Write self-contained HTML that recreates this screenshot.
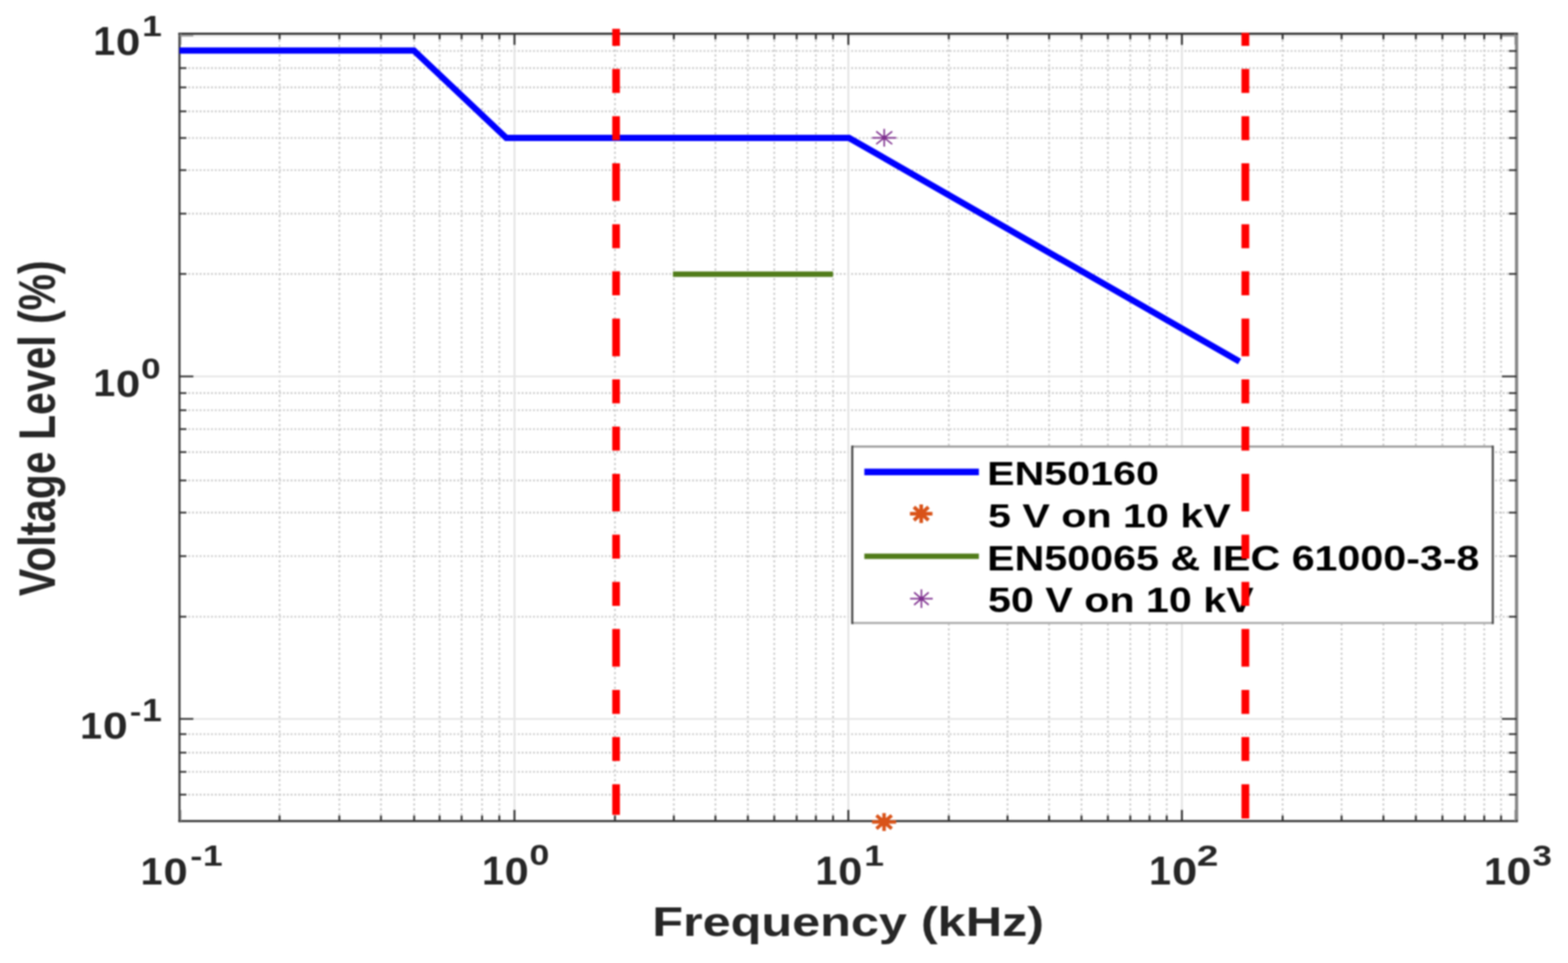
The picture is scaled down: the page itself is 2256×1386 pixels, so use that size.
<!DOCTYPE html>
<html><head><meta charset="utf-8"><title>Voltage Level vs Frequency</title>
<style>html,body{margin:0;padding:0;background:#fff;}svg{display:block;filter:blur(0.8px);}text{font-family:"Liberation Sans",Arial,Helvetica,sans-serif;font-weight:bold;}</style></head><body>
<svg width="2256" height="1386" viewBox="0 0 2256 1386">
<rect x="0" y="0" width="2256" height="1386" fill="#ffffff"/>
<g id="grid"><line x1="402.2" y1="50.6" x2="402.2" y2="1179.7" stroke="#c2c2c2" stroke-width="2.4" stroke-dasharray="2.6 4.4"/><line x1="488.2" y1="50.6" x2="488.2" y2="1179.7" stroke="#c2c2c2" stroke-width="2.4" stroke-dasharray="2.6 4.4"/><line x1="548.1" y1="50.6" x2="548.1" y2="1179.7" stroke="#c2c2c2" stroke-width="2.4" stroke-dasharray="2.6 4.4"/><line x1="595.9" y1="50.6" x2="595.9" y2="1179.7" stroke="#c2c2c2" stroke-width="2.4" stroke-dasharray="2.6 4.4"/><line x1="632.5" y1="50.6" x2="632.5" y2="1179.7" stroke="#c2c2c2" stroke-width="2.4" stroke-dasharray="2.6 4.4"/><line x1="664.1" y1="50.6" x2="664.1" y2="1179.7" stroke="#c2c2c2" stroke-width="2.4" stroke-dasharray="2.6 4.4"/><line x1="693.6" y1="50.6" x2="693.6" y2="1179.7" stroke="#c2c2c2" stroke-width="2.4" stroke-dasharray="2.6 4.4"/><line x1="718.4" y1="50.6" x2="718.4" y2="1179.7" stroke="#c2c2c2" stroke-width="2.4" stroke-dasharray="2.6 4.4"/><line x1="884.8" y1="50.6" x2="884.8" y2="1179.7" stroke="#c2c2c2" stroke-width="2.4" stroke-dasharray="2.6 4.4"/><line x1="969.5" y1="50.6" x2="969.5" y2="1179.7" stroke="#c2c2c2" stroke-width="2.4" stroke-dasharray="2.6 4.4"/><line x1="1029.3" y1="50.6" x2="1029.3" y2="1179.7" stroke="#c2c2c2" stroke-width="2.4" stroke-dasharray="2.6 4.4"/><line x1="1076.0" y1="50.6" x2="1076.0" y2="1179.7" stroke="#c2c2c2" stroke-width="2.4" stroke-dasharray="2.6 4.4"/><line x1="1114.0" y1="50.6" x2="1114.0" y2="1179.7" stroke="#c2c2c2" stroke-width="2.4" stroke-dasharray="2.6 4.4"/><line x1="1146.2" y1="50.6" x2="1146.2" y2="1179.7" stroke="#c2c2c2" stroke-width="2.4" stroke-dasharray="2.6 4.4"/><line x1="1173.9" y1="50.6" x2="1173.9" y2="1179.7" stroke="#c2c2c2" stroke-width="2.4" stroke-dasharray="2.6 4.4"/><line x1="1198.6" y1="50.6" x2="1198.6" y2="1179.7" stroke="#c2c2c2" stroke-width="2.4" stroke-dasharray="2.6 4.4"/><line x1="1365.1" y1="50.6" x2="1365.1" y2="1179.7" stroke="#c2c2c2" stroke-width="2.4" stroke-dasharray="2.6 4.4"/><line x1="1449.6" y1="50.6" x2="1449.6" y2="1179.7" stroke="#c2c2c2" stroke-width="2.4" stroke-dasharray="2.6 4.4"/><line x1="1509.4" y1="50.6" x2="1509.4" y2="1179.7" stroke="#c2c2c2" stroke-width="2.4" stroke-dasharray="2.6 4.4"/><line x1="1556.0" y1="50.6" x2="1556.0" y2="1179.7" stroke="#c2c2c2" stroke-width="2.4" stroke-dasharray="2.6 4.4"/><line x1="1594.0" y1="50.6" x2="1594.0" y2="1179.7" stroke="#c2c2c2" stroke-width="2.4" stroke-dasharray="2.6 4.4"/><line x1="1626.2" y1="50.6" x2="1626.2" y2="1179.7" stroke="#c2c2c2" stroke-width="2.4" stroke-dasharray="2.6 4.4"/><line x1="1654.0" y1="50.6" x2="1654.0" y2="1179.7" stroke="#c2c2c2" stroke-width="2.4" stroke-dasharray="2.6 4.4"/><line x1="1678.7" y1="50.6" x2="1678.7" y2="1179.7" stroke="#c2c2c2" stroke-width="2.4" stroke-dasharray="2.6 4.4"/><line x1="1845.4" y1="50.6" x2="1845.4" y2="1179.7" stroke="#c2c2c2" stroke-width="2.4" stroke-dasharray="2.6 4.4"/><line x1="1930.2" y1="50.6" x2="1930.2" y2="1179.7" stroke="#c2c2c2" stroke-width="2.4" stroke-dasharray="2.6 4.4"/><line x1="1990.4" y1="50.6" x2="1990.4" y2="1179.7" stroke="#c2c2c2" stroke-width="2.4" stroke-dasharray="2.6 4.4"/><line x1="2037.1" y1="50.6" x2="2037.1" y2="1179.7" stroke="#c2c2c2" stroke-width="2.4" stroke-dasharray="2.6 4.4"/><line x1="2075.3" y1="50.6" x2="2075.3" y2="1179.7" stroke="#c2c2c2" stroke-width="2.4" stroke-dasharray="2.6 4.4"/><line x1="2107.6" y1="50.6" x2="2107.6" y2="1179.7" stroke="#c2c2c2" stroke-width="2.4" stroke-dasharray="2.6 4.4"/><line x1="2135.5" y1="50.6" x2="2135.5" y2="1179.7" stroke="#c2c2c2" stroke-width="2.4" stroke-dasharray="2.6 4.4"/><line x1="2159.7" y1="50.6" x2="2159.7" y2="1179.7" stroke="#c2c2c2" stroke-width="2.4" stroke-dasharray="2.6 4.4"/><line x1="260.2" y1="1143.7" x2="2180.0" y2="1143.7" stroke="#c2c2c2" stroke-width="2.4" stroke-dasharray="2.4 3.05"/><line x1="260.2" y1="1110.9" x2="2180.0" y2="1110.9" stroke="#c2c2c2" stroke-width="2.4" stroke-dasharray="2.4 3.05"/><line x1="260.2" y1="1083.2" x2="2180.0" y2="1083.2" stroke="#c2c2c2" stroke-width="2.4" stroke-dasharray="2.4 3.05"/><line x1="260.2" y1="1056.6" x2="2180.0" y2="1056.6" stroke="#c2c2c2" stroke-width="2.4" stroke-dasharray="2.4 3.05"/><line x1="260.2" y1="887.6" x2="2180.0" y2="887.6" stroke="#c2c2c2" stroke-width="2.4" stroke-dasharray="2.4 3.05"/><line x1="260.2" y1="800.4" x2="2180.0" y2="800.4" stroke="#c2c2c2" stroke-width="2.4" stroke-dasharray="2.4 3.05"/><line x1="260.2" y1="737.8" x2="2180.0" y2="737.8" stroke="#c2c2c2" stroke-width="2.4" stroke-dasharray="2.4 3.05"/><line x1="260.2" y1="691.5" x2="2180.0" y2="691.5" stroke="#c2c2c2" stroke-width="2.4" stroke-dasharray="2.4 3.05"/><line x1="260.2" y1="650.7" x2="2180.0" y2="650.7" stroke="#c2c2c2" stroke-width="2.4" stroke-dasharray="2.4 3.05"/><line x1="260.2" y1="617.6" x2="2180.0" y2="617.6" stroke="#c2c2c2" stroke-width="2.4" stroke-dasharray="2.4 3.05"/><line x1="260.2" y1="590.4" x2="2180.0" y2="590.4" stroke="#c2c2c2" stroke-width="2.4" stroke-dasharray="2.4 3.05"/><line x1="260.2" y1="565.8" x2="2180.0" y2="565.8" stroke="#c2c2c2" stroke-width="2.4" stroke-dasharray="2.4 3.05"/><line x1="260.2" y1="394.2" x2="2180.0" y2="394.2" stroke="#c2c2c2" stroke-width="2.4" stroke-dasharray="2.4 3.05"/><line x1="260.2" y1="307.5" x2="2180.0" y2="307.5" stroke="#c2c2c2" stroke-width="2.4" stroke-dasharray="2.4 3.05"/><line x1="260.2" y1="244.9" x2="2180.0" y2="244.9" stroke="#c2c2c2" stroke-width="2.4" stroke-dasharray="2.4 3.05"/><line x1="260.2" y1="198.6" x2="2180.0" y2="198.6" stroke="#c2c2c2" stroke-width="2.4" stroke-dasharray="2.4 3.05"/><line x1="260.2" y1="160.2" x2="2180.0" y2="160.2" stroke="#c2c2c2" stroke-width="2.4" stroke-dasharray="2.4 3.05"/><line x1="260.2" y1="125.8" x2="2180.0" y2="125.8" stroke="#c2c2c2" stroke-width="2.4" stroke-dasharray="2.4 3.05"/><line x1="260.2" y1="98.0" x2="2180.0" y2="98.0" stroke="#c2c2c2" stroke-width="2.4" stroke-dasharray="2.4 3.05"/><line x1="260.2" y1="73.4" x2="2180.0" y2="73.4" stroke="#c2c2c2" stroke-width="2.4" stroke-dasharray="2.4 3.05"/><line x1="740.2" y1="48.6" x2="740.2" y2="1181.7" stroke="#e3e3e3" stroke-width="2.6"/><line x1="1220.6" y1="48.6" x2="1220.6" y2="1181.7" stroke="#e3e3e3" stroke-width="2.6"/><line x1="1700.5" y1="48.6" x2="1700.5" y2="1181.7" stroke="#e3e3e3" stroke-width="2.6"/><line x1="258.2" y1="51.5" x2="2182.0" y2="51.5" stroke="#e6e6e6" stroke-width="2.6"/><line x1="258.2" y1="541.8" x2="2182.0" y2="541.8" stroke="#e6e6e6" stroke-width="2.6"/><line x1="258.2" y1="1034.7" x2="2182.0" y2="1034.7" stroke="#e6e6e6" stroke-width="2.6"/></g>
<g id="axes"><line x1="258.2" y1="47.1" x2="258.2" y2="1183.2" stroke="#3a3a3a" stroke-width="3"/><line x1="2182.0" y1="47.1" x2="2182.0" y2="1183.2" stroke="#858585" stroke-width="4.6"/><line x1="256.7" y1="48.6" x2="2183.5" y2="48.6" stroke="#333333" stroke-width="3"/><line x1="256.7" y1="1181.7" x2="2183.5" y2="1181.7" stroke="#333333" stroke-width="3.1"/><line x1="402.2" y1="1181.7" x2="402.2" y2="1173.7" stroke="#333333" stroke-width="2.8"/><line x1="402.2" y1="48.6" x2="402.2" y2="56.6" stroke="#333333" stroke-width="2.8"/><line x1="488.2" y1="1181.7" x2="488.2" y2="1173.7" stroke="#333333" stroke-width="2.8"/><line x1="488.2" y1="48.6" x2="488.2" y2="56.6" stroke="#333333" stroke-width="2.8"/><line x1="548.1" y1="1181.7" x2="548.1" y2="1173.7" stroke="#333333" stroke-width="2.8"/><line x1="548.1" y1="48.6" x2="548.1" y2="56.6" stroke="#333333" stroke-width="2.8"/><line x1="595.9" y1="1181.7" x2="595.9" y2="1173.7" stroke="#333333" stroke-width="2.8"/><line x1="595.9" y1="48.6" x2="595.9" y2="56.6" stroke="#333333" stroke-width="2.8"/><line x1="632.5" y1="1181.7" x2="632.5" y2="1173.7" stroke="#333333" stroke-width="2.8"/><line x1="632.5" y1="48.6" x2="632.5" y2="56.6" stroke="#333333" stroke-width="2.8"/><line x1="664.1" y1="1181.7" x2="664.1" y2="1173.7" stroke="#333333" stroke-width="2.8"/><line x1="664.1" y1="48.6" x2="664.1" y2="56.6" stroke="#333333" stroke-width="2.8"/><line x1="693.6" y1="1181.7" x2="693.6" y2="1173.7" stroke="#333333" stroke-width="2.8"/><line x1="693.6" y1="48.6" x2="693.6" y2="56.6" stroke="#333333" stroke-width="2.8"/><line x1="718.4" y1="1181.7" x2="718.4" y2="1173.7" stroke="#333333" stroke-width="2.8"/><line x1="718.4" y1="48.6" x2="718.4" y2="56.6" stroke="#333333" stroke-width="2.8"/><line x1="884.8" y1="1181.7" x2="884.8" y2="1173.7" stroke="#333333" stroke-width="2.8"/><line x1="884.8" y1="48.6" x2="884.8" y2="56.6" stroke="#333333" stroke-width="2.8"/><line x1="969.5" y1="1181.7" x2="969.5" y2="1173.7" stroke="#333333" stroke-width="2.8"/><line x1="969.5" y1="48.6" x2="969.5" y2="56.6" stroke="#333333" stroke-width="2.8"/><line x1="1029.3" y1="1181.7" x2="1029.3" y2="1173.7" stroke="#333333" stroke-width="2.8"/><line x1="1029.3" y1="48.6" x2="1029.3" y2="56.6" stroke="#333333" stroke-width="2.8"/><line x1="1076.0" y1="1181.7" x2="1076.0" y2="1173.7" stroke="#333333" stroke-width="2.8"/><line x1="1076.0" y1="48.6" x2="1076.0" y2="56.6" stroke="#333333" stroke-width="2.8"/><line x1="1114.0" y1="1181.7" x2="1114.0" y2="1173.7" stroke="#333333" stroke-width="2.8"/><line x1="1114.0" y1="48.6" x2="1114.0" y2="56.6" stroke="#333333" stroke-width="2.8"/><line x1="1146.2" y1="1181.7" x2="1146.2" y2="1173.7" stroke="#333333" stroke-width="2.8"/><line x1="1146.2" y1="48.6" x2="1146.2" y2="56.6" stroke="#333333" stroke-width="2.8"/><line x1="1173.9" y1="1181.7" x2="1173.9" y2="1173.7" stroke="#333333" stroke-width="2.8"/><line x1="1173.9" y1="48.6" x2="1173.9" y2="56.6" stroke="#333333" stroke-width="2.8"/><line x1="1198.6" y1="1181.7" x2="1198.6" y2="1173.7" stroke="#333333" stroke-width="2.8"/><line x1="1198.6" y1="48.6" x2="1198.6" y2="56.6" stroke="#333333" stroke-width="2.8"/><line x1="1365.1" y1="1181.7" x2="1365.1" y2="1173.7" stroke="#333333" stroke-width="2.8"/><line x1="1365.1" y1="48.6" x2="1365.1" y2="56.6" stroke="#333333" stroke-width="2.8"/><line x1="1449.6" y1="1181.7" x2="1449.6" y2="1173.7" stroke="#333333" stroke-width="2.8"/><line x1="1449.6" y1="48.6" x2="1449.6" y2="56.6" stroke="#333333" stroke-width="2.8"/><line x1="1509.4" y1="1181.7" x2="1509.4" y2="1173.7" stroke="#333333" stroke-width="2.8"/><line x1="1509.4" y1="48.6" x2="1509.4" y2="56.6" stroke="#333333" stroke-width="2.8"/><line x1="1556.0" y1="1181.7" x2="1556.0" y2="1173.7" stroke="#333333" stroke-width="2.8"/><line x1="1556.0" y1="48.6" x2="1556.0" y2="56.6" stroke="#333333" stroke-width="2.8"/><line x1="1594.0" y1="1181.7" x2="1594.0" y2="1173.7" stroke="#333333" stroke-width="2.8"/><line x1="1594.0" y1="48.6" x2="1594.0" y2="56.6" stroke="#333333" stroke-width="2.8"/><line x1="1626.2" y1="1181.7" x2="1626.2" y2="1173.7" stroke="#333333" stroke-width="2.8"/><line x1="1626.2" y1="48.6" x2="1626.2" y2="56.6" stroke="#333333" stroke-width="2.8"/><line x1="1654.0" y1="1181.7" x2="1654.0" y2="1173.7" stroke="#333333" stroke-width="2.8"/><line x1="1654.0" y1="48.6" x2="1654.0" y2="56.6" stroke="#333333" stroke-width="2.8"/><line x1="1678.7" y1="1181.7" x2="1678.7" y2="1173.7" stroke="#333333" stroke-width="2.8"/><line x1="1678.7" y1="48.6" x2="1678.7" y2="56.6" stroke="#333333" stroke-width="2.8"/><line x1="1845.4" y1="1181.7" x2="1845.4" y2="1173.7" stroke="#333333" stroke-width="2.8"/><line x1="1845.4" y1="48.6" x2="1845.4" y2="56.6" stroke="#333333" stroke-width="2.8"/><line x1="1930.2" y1="1181.7" x2="1930.2" y2="1173.7" stroke="#333333" stroke-width="2.8"/><line x1="1930.2" y1="48.6" x2="1930.2" y2="56.6" stroke="#333333" stroke-width="2.8"/><line x1="1990.4" y1="1181.7" x2="1990.4" y2="1173.7" stroke="#333333" stroke-width="2.8"/><line x1="1990.4" y1="48.6" x2="1990.4" y2="56.6" stroke="#333333" stroke-width="2.8"/><line x1="2037.1" y1="1181.7" x2="2037.1" y2="1173.7" stroke="#333333" stroke-width="2.8"/><line x1="2037.1" y1="48.6" x2="2037.1" y2="56.6" stroke="#333333" stroke-width="2.8"/><line x1="2075.3" y1="1181.7" x2="2075.3" y2="1173.7" stroke="#333333" stroke-width="2.8"/><line x1="2075.3" y1="48.6" x2="2075.3" y2="56.6" stroke="#333333" stroke-width="2.8"/><line x1="2107.6" y1="1181.7" x2="2107.6" y2="1173.7" stroke="#333333" stroke-width="2.8"/><line x1="2107.6" y1="48.6" x2="2107.6" y2="56.6" stroke="#333333" stroke-width="2.8"/><line x1="2135.5" y1="1181.7" x2="2135.5" y2="1173.7" stroke="#333333" stroke-width="2.8"/><line x1="2135.5" y1="48.6" x2="2135.5" y2="56.6" stroke="#333333" stroke-width="2.8"/><line x1="2159.7" y1="1181.7" x2="2159.7" y2="1173.7" stroke="#333333" stroke-width="2.8"/><line x1="2159.7" y1="48.6" x2="2159.7" y2="56.6" stroke="#333333" stroke-width="2.8"/><line x1="740.2" y1="1181.7" x2="740.2" y2="1165.7" stroke="#333333" stroke-width="2.8"/><line x1="740.2" y1="48.6" x2="740.2" y2="64.6" stroke="#333333" stroke-width="2.8"/><line x1="1220.6" y1="1181.7" x2="1220.6" y2="1165.7" stroke="#333333" stroke-width="2.8"/><line x1="1220.6" y1="48.6" x2="1220.6" y2="64.6" stroke="#333333" stroke-width="2.8"/><line x1="1700.5" y1="1181.7" x2="1700.5" y2="1165.7" stroke="#333333" stroke-width="2.8"/><line x1="1700.5" y1="48.6" x2="1700.5" y2="64.6" stroke="#333333" stroke-width="2.8"/><line x1="258.2" y1="1143.7" x2="268.2" y2="1143.7" stroke="#333333" stroke-width="2.5"/><line x1="2182.0" y1="1143.7" x2="2171.0" y2="1143.7" stroke="#333333" stroke-width="2.5"/><line x1="258.2" y1="1110.9" x2="268.2" y2="1110.9" stroke="#333333" stroke-width="2.5"/><line x1="2182.0" y1="1110.9" x2="2171.0" y2="1110.9" stroke="#333333" stroke-width="2.5"/><line x1="258.2" y1="1083.2" x2="268.2" y2="1083.2" stroke="#333333" stroke-width="2.5"/><line x1="2182.0" y1="1083.2" x2="2171.0" y2="1083.2" stroke="#333333" stroke-width="2.5"/><line x1="258.2" y1="1056.6" x2="268.2" y2="1056.6" stroke="#333333" stroke-width="2.5"/><line x1="2182.0" y1="1056.6" x2="2171.0" y2="1056.6" stroke="#333333" stroke-width="2.5"/><line x1="258.2" y1="887.6" x2="268.2" y2="887.6" stroke="#333333" stroke-width="2.5"/><line x1="2182.0" y1="887.6" x2="2171.0" y2="887.6" stroke="#333333" stroke-width="2.5"/><line x1="258.2" y1="800.4" x2="268.2" y2="800.4" stroke="#333333" stroke-width="2.5"/><line x1="2182.0" y1="800.4" x2="2171.0" y2="800.4" stroke="#333333" stroke-width="2.5"/><line x1="258.2" y1="737.8" x2="268.2" y2="737.8" stroke="#333333" stroke-width="2.5"/><line x1="2182.0" y1="737.8" x2="2171.0" y2="737.8" stroke="#333333" stroke-width="2.5"/><line x1="258.2" y1="691.5" x2="268.2" y2="691.5" stroke="#333333" stroke-width="2.5"/><line x1="2182.0" y1="691.5" x2="2171.0" y2="691.5" stroke="#333333" stroke-width="2.5"/><line x1="258.2" y1="650.7" x2="268.2" y2="650.7" stroke="#333333" stroke-width="2.5"/><line x1="2182.0" y1="650.7" x2="2171.0" y2="650.7" stroke="#333333" stroke-width="2.5"/><line x1="258.2" y1="617.6" x2="268.2" y2="617.6" stroke="#333333" stroke-width="2.5"/><line x1="2182.0" y1="617.6" x2="2171.0" y2="617.6" stroke="#333333" stroke-width="2.5"/><line x1="258.2" y1="590.4" x2="268.2" y2="590.4" stroke="#333333" stroke-width="2.5"/><line x1="2182.0" y1="590.4" x2="2171.0" y2="590.4" stroke="#333333" stroke-width="2.5"/><line x1="258.2" y1="565.8" x2="268.2" y2="565.8" stroke="#333333" stroke-width="2.5"/><line x1="2182.0" y1="565.8" x2="2171.0" y2="565.8" stroke="#333333" stroke-width="2.5"/><line x1="258.2" y1="394.2" x2="268.2" y2="394.2" stroke="#333333" stroke-width="2.5"/><line x1="2182.0" y1="394.2" x2="2171.0" y2="394.2" stroke="#333333" stroke-width="2.5"/><line x1="258.2" y1="307.5" x2="268.2" y2="307.5" stroke="#333333" stroke-width="2.5"/><line x1="2182.0" y1="307.5" x2="2171.0" y2="307.5" stroke="#333333" stroke-width="2.5"/><line x1="258.2" y1="244.9" x2="268.2" y2="244.9" stroke="#333333" stroke-width="2.5"/><line x1="2182.0" y1="244.9" x2="2171.0" y2="244.9" stroke="#333333" stroke-width="2.5"/><line x1="258.2" y1="198.6" x2="268.2" y2="198.6" stroke="#333333" stroke-width="2.5"/><line x1="2182.0" y1="198.6" x2="2171.0" y2="198.6" stroke="#333333" stroke-width="2.5"/><line x1="258.2" y1="160.2" x2="268.2" y2="160.2" stroke="#333333" stroke-width="2.5"/><line x1="2182.0" y1="160.2" x2="2171.0" y2="160.2" stroke="#333333" stroke-width="2.5"/><line x1="258.2" y1="125.8" x2="268.2" y2="125.8" stroke="#333333" stroke-width="2.5"/><line x1="2182.0" y1="125.8" x2="2171.0" y2="125.8" stroke="#333333" stroke-width="2.5"/><line x1="258.2" y1="98.0" x2="268.2" y2="98.0" stroke="#333333" stroke-width="2.5"/><line x1="2182.0" y1="98.0" x2="2171.0" y2="98.0" stroke="#333333" stroke-width="2.5"/><line x1="258.2" y1="73.4" x2="268.2" y2="73.4" stroke="#333333" stroke-width="2.5"/><line x1="2182.0" y1="73.4" x2="2171.0" y2="73.4" stroke="#333333" stroke-width="2.5"/><line x1="258.2" y1="51.5" x2="278.2" y2="51.5" stroke="#8c8c8c" stroke-width="2.0"/><line x1="2182.0" y1="51.5" x2="2161.0" y2="51.5" stroke="#8c8c8c" stroke-width="2.0"/><line x1="258.2" y1="541.8" x2="278.2" y2="541.8" stroke="#333333" stroke-width="2.5"/><line x1="2182.0" y1="541.8" x2="2161.0" y2="541.8" stroke="#333333" stroke-width="2.5"/><line x1="258.2" y1="1034.7" x2="278.2" y2="1034.7" stroke="#333333" stroke-width="2.5"/><line x1="2182.0" y1="1034.7" x2="2161.0" y2="1034.7" stroke="#333333" stroke-width="2.5"/><line x1="260.0" y1="1181.7" x2="260.0" y2="1165.7" stroke="#8c8c8c" stroke-width="2"/><line x1="260.0" y1="48.6" x2="260.0" y2="64.6" stroke="#8c8c8c" stroke-width="2"/><line x1="2180.0" y1="1181.7" x2="2180.0" y2="1165.7" stroke="#8c8c8c" stroke-width="2"/><line x1="2180.0" y1="48.6" x2="2180.0" y2="64.6" stroke="#8c8c8c" stroke-width="2"/></g>
<polyline fill="none" stroke="#0000ff" stroke-width="9.1" stroke-linejoin="miter" points="258.2,72.8 595.5,72.8 728.4,198.5 1221.6,198.5 1783.4,520.4"/>
<line x1="968.2" y1="394.6" x2="1198.5" y2="394.6" stroke="#517c1a" stroke-width="7.8"/>
<path d="M1254.8,198.3H1289.6M1272.2,185.5V211.1M1260.7,189.1L1283.7,207.5M1260.7,207.5L1283.7,189.1" stroke="#7e2f8e" stroke-width="2.2" fill="none" stroke-linecap="butt"/>
<circle cx="1272.2" cy="198.3" r="3.2" fill="#7e2f8e"/>
<path d="M1254.7,1183.1H1289.3M1272.0,1170.3V1195.9M1261.0,1173.6L1283.0,1192.6M1261.0,1192.6L1283.0,1173.6" stroke="#d95319" stroke-width="5.0" fill="none" stroke-linecap="butt"/>
<circle cx="1272.0" cy="1183.1" r="6.5" fill="#d95319"/>
<rect x="1226.2" y="642.7" width="921.6" height="253.9" fill="#ffffff"/>
<line x1="1226.2" y1="642.7" x2="2147.8" y2="642.7" stroke="#9a9a9a" stroke-width="3"/>
<line x1="1226.2" y1="896.6" x2="2147.8" y2="896.6" stroke="#b0b0b0" stroke-width="3.4"/>
<line x1="1226.2" y1="641.2" x2="1226.2" y2="898.3" stroke="#444444" stroke-width="3"/>
<line x1="2147.8" y1="641.2" x2="2147.8" y2="898.3" stroke="#4a4a4a" stroke-width="3"/>
<line x1="1243.6" y1="679.3" x2="1408.4" y2="679.3" stroke="#0000ff" stroke-width="9.6"/>
<line x1="1243.6" y1="800.6" x2="1408.4" y2="800.6" stroke="#517c1a" stroke-width="7.8"/>
<path d="M1309.2,739.3H1341.6M1325.4,725.9V752.7M1314.9,729.8L1335.9,748.8M1314.9,748.8L1335.9,729.8" stroke="#d95319" stroke-width="5.2" fill="none" stroke-linecap="butt"/>
<circle cx="1325.4" cy="739.3" r="6.5" fill="#d95319"/>
<path d="M1309.4,861.6H1342.0M1325.7,848.2V875.0M1315.2,852.6L1336.2,870.6M1315.2,870.6L1336.2,852.6" stroke="#7e2f8e" stroke-width="2.2" fill="none" stroke-linecap="butt"/>
<circle cx="1325.7" cy="861.6" r="3.0" fill="#7e2f8e"/>
<text transform="translate(1420.3,698.2) scale(1.2102,1)" font-size="48.98" fill="#000000">EN50160</text>
<text transform="translate(1421.6,758.6) scale(1.2511,1)" font-size="47.38" fill="#000000">5 V on 10 kV</text>
<text transform="translate(1420.3,820.7) scale(1.1653,1)" font-size="50.87" fill="#000000">EN50065 &amp; IEC 61000-3-8</text>
<text transform="translate(1421.6,880.6) scale(1.1787,1)" font-size="50.29" fill="#000000">50 V on 10 kV</text>
<line x1="886.4" y1="41.5" x2="886.4" y2="1172.8" stroke="#ff0000" stroke-width="11" stroke-dasharray="54.2 33.4 34.5 33.4 34.5 33.4" stroke-dashoffset="29.8"/>
<line x1="1791.8" y1="47.3" x2="1791.8" y2="1177.9" stroke="#ff0000" stroke-width="11.2" stroke-dasharray="54.2 33.4 34.5 33.4 34.5 33.4" stroke-dashoffset="35.6"/>
<text transform="translate(202.13,1273.00) scale(1.0292,1)" font-size="55.23" fill="#262626">1</text>
<text transform="translate(235.32,1272.67) scale(1.1613,1)" font-size="53.95" fill="#262626">0</text>
<text transform="translate(273.65,1246.46) scale(1.2622,1)" font-size="41.50" fill="#262626">-</text>
<text transform="translate(292.09,1245.90) scale(1.1898,1)" font-size="42.88" fill="#262626">1</text>
<text transform="translate(693.53,1273.00) scale(0.9977,1)" font-size="56.98" fill="#262626">1</text>
<text transform="translate(726.03,1272.77) scale(1.1425,1)" font-size="54.66" fill="#262626">0</text>
<text transform="translate(761.66,1245.49) scale(1.2364,1)" font-size="41.67" fill="#262626">0</text>
<text transform="translate(1173.23,1273.00) scale(1.0028,1)" font-size="56.69" fill="#262626">1</text>
<text transform="translate(1206.03,1272.77) scale(1.1425,1)" font-size="54.66" fill="#262626">0</text>
<text transform="translate(1243.49,1245.90) scale(1.1898,1)" font-size="42.88" fill="#262626">1</text>
<text transform="translate(1653.23,1273.00) scale(1.0028,1)" font-size="56.69" fill="#262626">1</text>
<text transform="translate(1686.21,1272.77) scale(1.1964,1)" font-size="54.66" fill="#262626">0</text>
<text transform="translate(1722.07,1246.00) scale(1.3131,1)" font-size="42.39" fill="#262626">2</text>
<text transform="translate(2135.13,1273.20) scale(1.0080,1)" font-size="56.40" fill="#262626">1</text>
<text transform="translate(2167.44,1272.66) scale(1.1818,1)" font-size="54.80" fill="#262626">0</text>
<text transform="translate(2204.75,1245.92) scale(1.1855,1)" font-size="42.43" fill="#262626">3</text>
<text transform="translate(134.13,78.60) scale(0.9977,1)" font-size="56.98" fill="#262626">1</text>
<text transform="translate(166.70,78.87) scale(1.1669,1)" font-size="54.24" fill="#262626">0</text>
<text transform="translate(204.49,52.30) scale(1.1898,1)" font-size="42.88" fill="#262626">1</text>
<text transform="translate(134.13,570.10) scale(1.0347,1)" font-size="54.94" fill="#262626">1</text>
<text transform="translate(166.81,571.07) scale(1.1631,1)" font-size="54.24" fill="#262626">0</text>
<text transform="translate(203.10,544.88) scale(1.1792,1)" font-size="42.80" fill="#262626">0</text>
<text transform="translate(115.33,1063.00) scale(1.0486,1)" font-size="54.22" fill="#262626">1</text>
<text transform="translate(148.06,1063.18) scale(1.2083,1)" font-size="53.25" fill="#262626">0</text>
<text transform="translate(186.65,1037.56) scale(1.2053,1)" font-size="41.50" fill="#262626">-</text>
<text transform="translate(204.49,1038.40) scale(1.1038,1)" font-size="46.22" fill="#262626">1</text>
<text transform="translate(938.5,1346.5) scale(1.23,1)" font-size="58.9" fill="#262626">Frequency (kHz)</text>
<text transform="translate(79.2,858.0) scale(1.27,1) rotate(-90)" font-size="58.9" fill="#262626">Voltage Level (%)</text>
</svg></body></html>
